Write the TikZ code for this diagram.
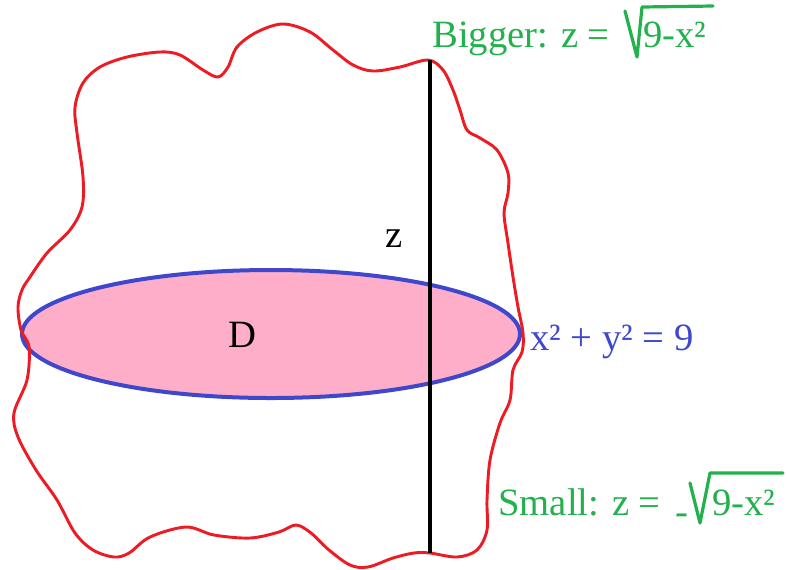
\documentclass[tikz,border=0pt]{standalone}
\usepackage{fontspec}
\setmainfont{Liberation Serif}
\definecolor{paintred}{HTML}{ED1C24}
\definecolor{paintgreen}{HTML}{22B14C}
\definecolor{paintblue}{HTML}{3F48CC}
\definecolor{paintpink}{HTML}{FFAEC9}
\begin{document}
\begin{tikzpicture}[x=0.75pt,y=-0.75pt,
  lbl/.style={inner sep=0pt, anchor=base west, font=\fontsize{29}{34}\selectfont},
  radical/.style={draw=paintgreen, line width=2.4pt, line cap=round, line join=round}]
\useasboundingbox (0,0) rectangle (787,569);
% disc D
\filldraw[fill=paintpink, draw=paintblue, line width=3pt] (271,334) ellipse [x radius=249, y radius=64];
% red region
\draw[paintred, line width=2.2pt, line join=round] plot[smooth cycle, tension=0.55] coordinates {
 (428,60) (443,70) (453,90) (460,110) (467,130) (480,138) (497,150) (508,173) (508,193)
 (504,213) (508,243) (513,277) (518,307) (523,333) (522,352) (513,370) (510,400) (500,423)
 (490,460) (487,500) (487,530) (477,550) (457,557) (430,553) (414,553) (393,558) (368,567)
 (350,565) (329,550) (311,533) (296,525) (279,532) (250,538) (214,535) (186,527) (150,537)
 (129,553) (114,557) (93,550) (75,533) (57,500) (36,470) (18,437) (14,413) (27,380) (29,347)
 (21,330) (18,307) (22,290) (30,277) (47,253) (70,230) (82,207) (83,177) (77,133) (75,107)
 (83,83) (100,67) (127,57) (160,52) (180,55) (203,70) (218,77) (228,67) (237,47) (257,32)
 (283,24) (310,32) (333,50) (353,65) (373,71) (400,67)};
% vertical segment z
\coordinate (ztop) at (430,60);
\coordinate (zbot) at (430,553);
\draw[black, line width=3pt] (ztop) -- (zbot);
% labels
\node[lbl] (D) at (228,347) {D};
\node[lbl] (z) at (385,247) {z};
\node[lbl, text=paintblue] (circ) at (530,350) {x² + y² = 9};
\node[lbl, text=paintgreen] (big) at (432,47) {Bigger: z =};
\node[lbl, text=paintgreen] (bigr) at (643,47) {9-x²};
\draw[radical] (625,11) -- (637,57) -- (642,7) -- (713,6);
\node[lbl, text=paintgreen] (small) at (498,515) {Small: z =};
\node[lbl, text=paintgreen] (minus) at (675,524) {-};
\node[lbl, text=paintgreen] (smallr) at (712,515) {9-x²};
\draw[radical] (690,483) -- (700,523) -- (710,473) -- (783,473);
\end{tikzpicture}
\end{document}
